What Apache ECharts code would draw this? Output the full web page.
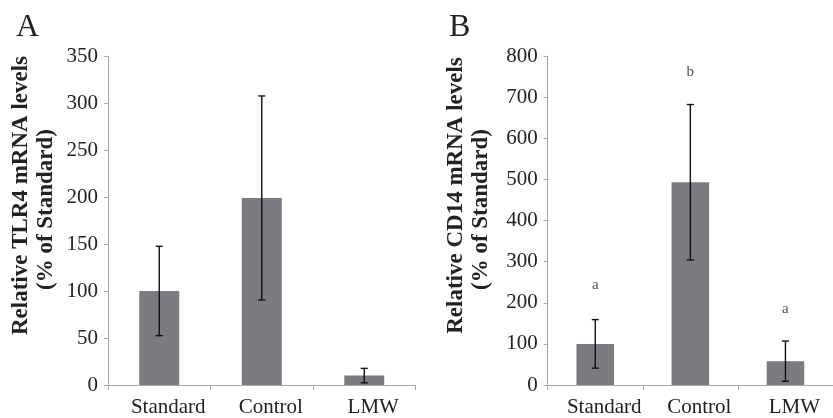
<!DOCTYPE html>
<html>
<head>
<meta charset="utf-8">
<script src="https://cdn.jsdelivr.net/npm/echarts@6/dist/echarts.min.js"></script>
<style>
  html, body { margin: 0; padding: 0; background: #fff; }
  #chart { width: 833px; height: 418px; }
</style>
</head>
<body>
<div id="chart"></div>
<script>
// groups on the x axis
const categories = ['Standard', 'Control', 'LMW'];
// panel A: TLR4
const tlr4Mean = [100, 199, 10];
const tlr4Err = [47.5, 108.5, 7.7];
// panel B: CD14
const cd14Mean = [100, 493, 58];
const cd14Err = [59, 189, 49];
// significance letters over B and where they sit (y value)
const cd14Letters = ['a', 'b', 'a'];
const cd14LetterY = [244, 762, 184];

const serif = '"Liberation Serif", "DejaVu Serif", serif';
const axisGray = '#a8a8a8';
const barGray = '#7b7b80';

const chart = echarts.init(document.getElementById('chart'));

// error bar with caps
function errorItem(means, errs) {
  return function (params, api) {
    const i = api.value(0);
    const m = means[i];
    const e = errs[i];
    const hi = api.coord([i, m + e]);
    const lo = api.coord([i, m - e]);
    const cap = 3.5;
    const style = { stroke: '#111', lineWidth: 1.4 };
    return {
      type: 'group',
      children: [
        { type: 'line', shape: { x1: hi[0], y1: hi[1], x2: lo[0], y2: lo[1] }, style: style },
        { type: 'line', shape: { x1: hi[0] - cap, y1: hi[1], x2: hi[0] + cap, y2: hi[1] }, style: style },
        { type: 'line', shape: { x1: lo[0] - cap, y1: lo[1], x2: lo[0] + cap, y2: lo[1] }, style: style }
      ]
    };
  };
}

function xAxisOpt(gridIndex) {
  return {
    type: 'category',
    gridIndex: gridIndex,
    data: categories,
    axisLine: { lineStyle: { color: axisGray, width: 1 } },
    axisTick: { show: true, alignWithLabel: false, length: 5, lineStyle: { color: axisGray } },
    axisLabel: {
      interval: 0,
      color: '#222', fontFamily: serif, fontSize: 21, margin: 12,
      padding: [0, 0, 0, 18]
    }
  };
}

function yAxisOpt(gridIndex, max, interval, title, gap) {
  return {
    type: 'value',
    gridIndex: gridIndex,
    min: 0,
    max: max,
    interval: interval,
    splitLine: { show: false },
    axisLine: { show: true, lineStyle: { color: axisGray, width: 1 } },
    axisTick: { show: true, length: 4, lineStyle: { color: axisGray } },
    axisLabel: { color: '#222', fontFamily: serif, fontSize: 21, margin: 10 },
    name: '{l1|' + title + '}\n{l2|(% of Standard)}',
    nameLocation: 'middle',
    nameGap: gap,
    nameRotate: 90,
    nameTextStyle: {
      padding: [0, 0, 0, 50],
      rich: {
        l1: { fontFamily: serif, fontSize: 23, fontWeight: 'bold', color: '#222', lineHeight: 25 },
        l2: { fontFamily: serif, fontSize: 23, fontWeight: 'bold', color: '#222', lineHeight: 25, padding: [0, 28, 0, 0] }
      }
    }
  };
}

chart.setOption({
  animation: false,
  graphic: [
    { type: 'text', left: 16, top: 12, style: { text: 'A', font: '32px ' + serif, fill: '#222' } },
    { type: 'text', left: 449, top: 12, style: { text: 'B', font: '32px ' + serif, fill: '#222' } }
  ],
  grid: [
    { left: 108, top: 56, width: 307.5, height: 329.7 },
    { left: 547.7, top: 56, width: 304.5, height: 329.7 }
  ],
  xAxis: [xAxisOpt(0), xAxisOpt(1)],
  yAxis: [
    yAxisOpt(0, 350, 50, 'Relative TLR4 mRNA levels', 49),
    yAxisOpt(1, 800, 100, 'Relative CD14 mRNA levels', 54)
  ],
  series: [
    {
      type: 'bar', xAxisIndex: 0, yAxisIndex: 0, data: tlr4Mean,
      barWidth: '39%', itemStyle: { color: barGray }
    },
    {
      type: 'custom', xAxisIndex: 0, yAxisIndex: 0,
      data: categories.map((c, i) => [i, tlr4Mean[i]]),
      renderItem: errorItem(tlr4Mean, tlr4Err), z: 5
    },
    {
      type: 'bar', xAxisIndex: 1, yAxisIndex: 1, data: cd14Mean,
      barWidth: '39.5%', itemStyle: { color: barGray }
    },
    {
      type: 'custom', xAxisIndex: 1, yAxisIndex: 1,
      data: categories.map((c, i) => [i, cd14Mean[i]]),
      renderItem: errorItem(cd14Mean, cd14Err), z: 5
    },
    {
      type: 'scatter', xAxisIndex: 1, yAxisIndex: 1,
      symbolSize: 0, silent: true,
      data: cd14LetterY.map((y, i) => [i, y]),
      label: {
        show: true, position: 'inside',
        formatter: (p) => cd14Letters[p.dataIndex],
        fontFamily: serif, fontSize: 15, color: '#222'
      }
    }
  ]
});
</script>
</body>
</html>
